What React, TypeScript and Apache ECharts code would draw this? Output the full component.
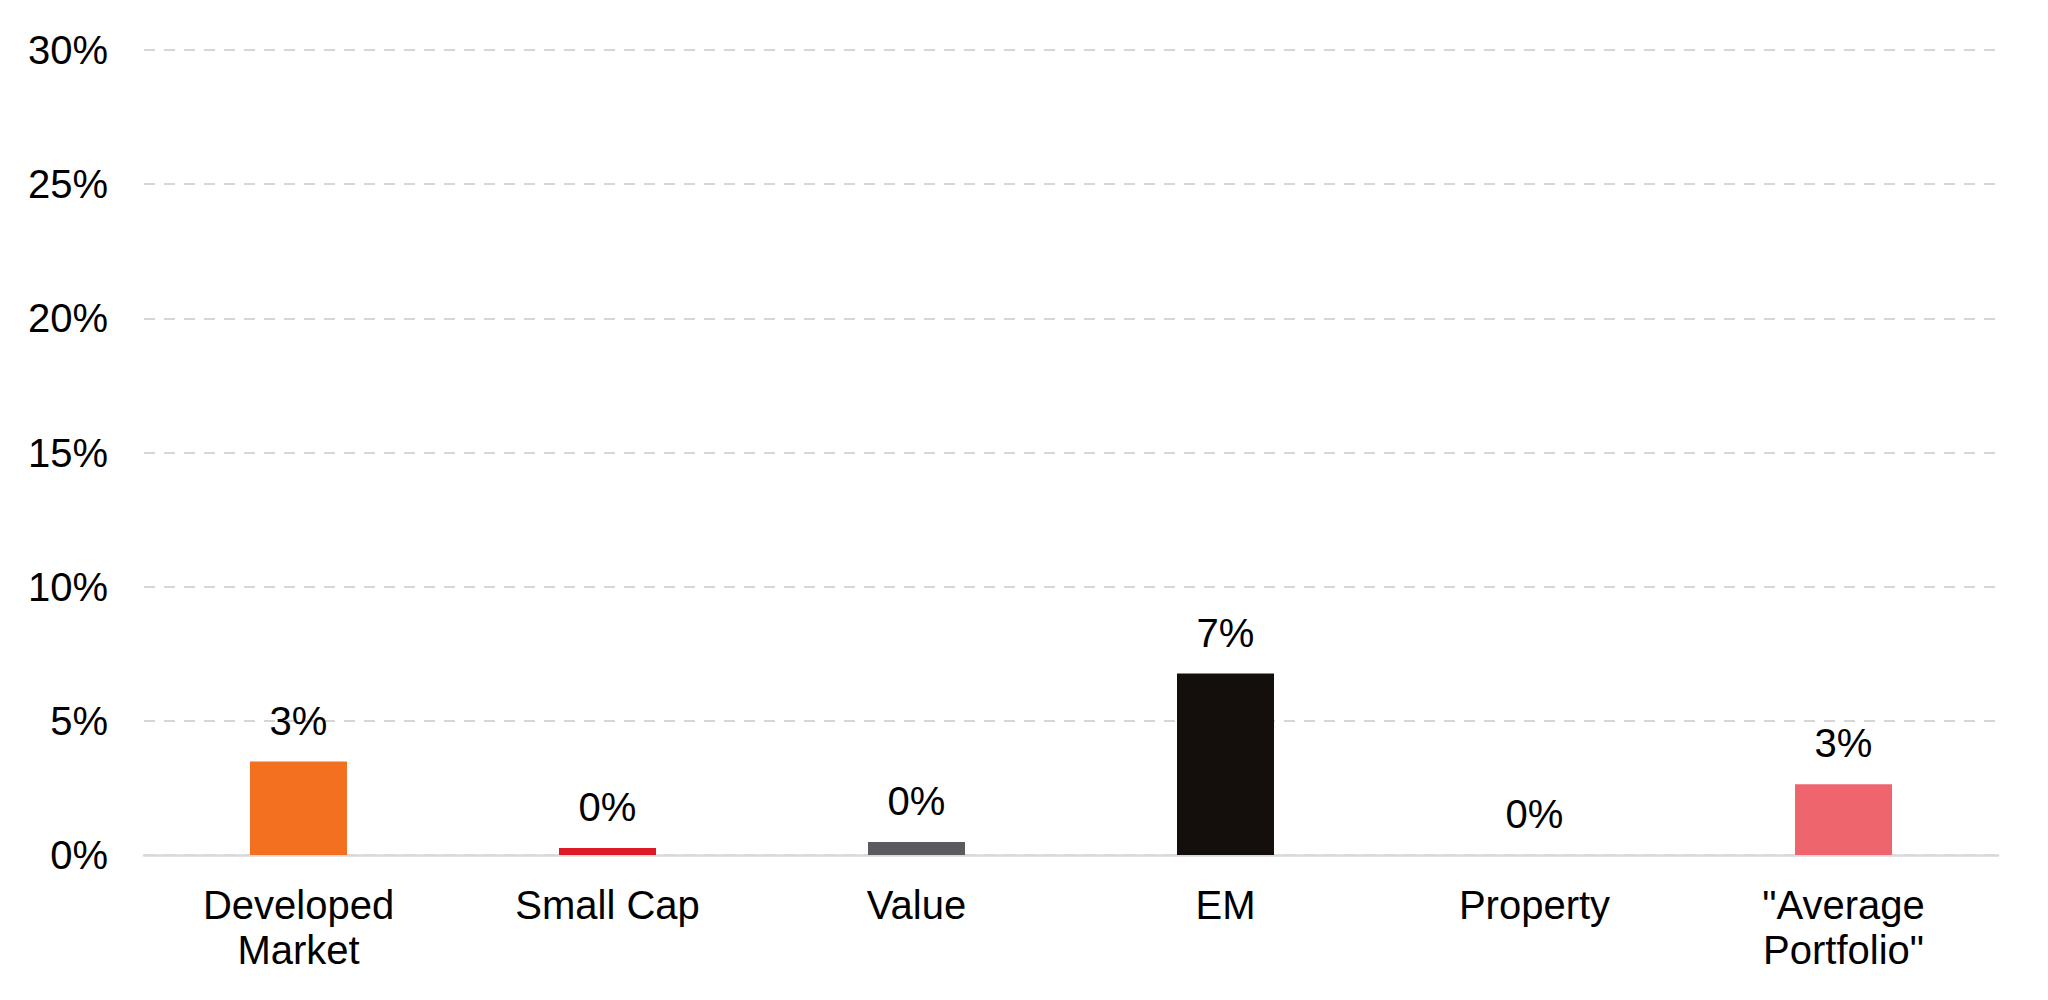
import { useEffect, useRef } from 'react'
import * as echarts from 'echarts'

const categories = ['Developed\nMarket', 'Small Cap', 'Value', 'EM', 'Property', '"Average\nPortfolio"']
const values     = [3.48, 0.26, 0.48, 6.76, 0, 2.64]
const colors     = ['#F37021', '#DE1B24', '#5A5A5F', '#140E0D', '#9A9A9A', '#EE656E']
const yTicks     = [0, 5, 10, 15, 20, 25, 30]

const FONT = '"Liberation Sans", Arial, Helvetica, sans-serif'

export default function App() {
  const ref = useRef<HTMLDivElement>(null)

  useEffect(() => {
    document.body.style.margin = '0'
    if (!ref.current) return
    const chart = echarts.init(ref.current, null, { renderer: 'svg' })

    chart.setOption({
      animation: false,
      backgroundColor: '#ffffff',
      textStyle: { fontFamily: FONT },
      grid: { top: 50, bottom: 145, left: 144, right: 50 },
      xAxis: {
        type: 'category',
        data: categories,
        axisTick: { show: false },
        axisLine: { lineStyle: { color: '#d9d9d9', width: 2.5 } },
        axisLabel: {
          color: '#000', fontSize: 40, lineHeight: 45, margin: 27,
          fontFamily: FONT, interval: 0,
        },
      },
      yAxis: {
        type: 'value',
        min: yTicks[0],
        max: yTicks[yTicks.length - 1],
        interval: 5,
        axisLine: { show: false },
        axisTick: { show: false },
        axisLabel: {
          color: '#000', fontSize: 40, margin: 36, fontFamily: FONT,
          formatter: (v: number) => `${v}%`,
        },
        splitLine: { lineStyle: { color: '#d6d6d6', width: 2, type: [11, 9] } },
      },
      series: [{
        type: 'bar',
        barWidth: 97,
        data: values.map((v, i) => ({ value: v, itemStyle: { color: colors[i] } })),
        label: {
          show: true,
          position: 'top',
          distance: 21,
          color: '#000',
          fontSize: 40,
          lineHeight: 40,
          fontFamily: FONT,
          formatter: (p: any) => `${Math.round(p.value)}%`,
        },
      }],
    })

    return () => { chart.dispose() }
  }, [])

  return <div ref={ref} style={{ width: 2048, height: 1000 }} />
}
